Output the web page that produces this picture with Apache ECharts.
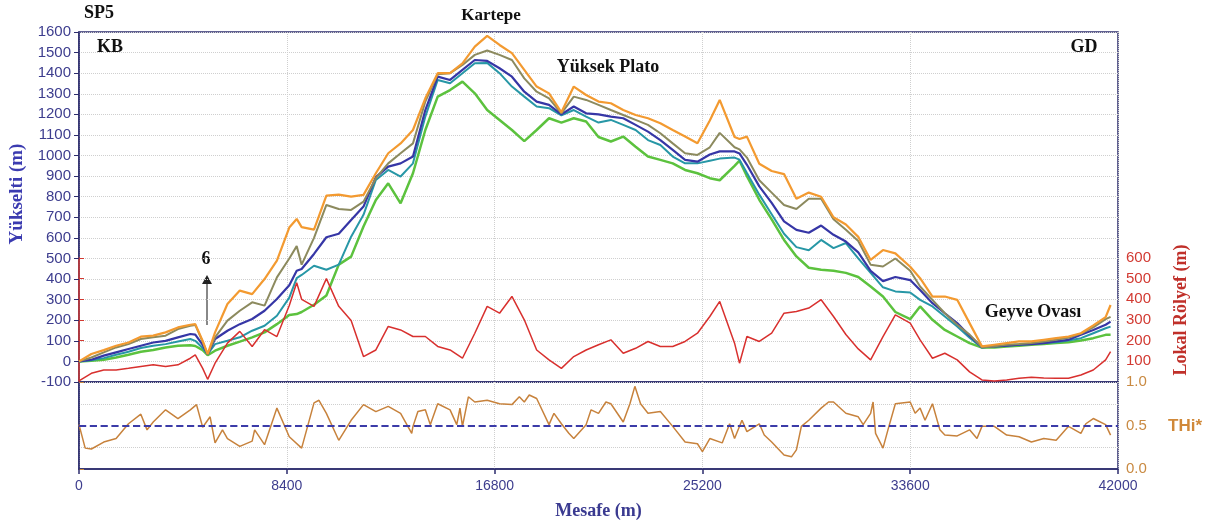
<!DOCTYPE html>
<html>
<head>
<meta charset="utf-8">
<script src="https://cdn.jsdelivr.net/npm/echarts@6/dist/echarts.min.js"></script>
<style>
html,body{margin:0;padding:0;background:#fff;}
#c{width:1212px;height:526px;}
</style>
</head>
<body>
<div id="c"></div>
<script>
// Distance (m) for elevation / relief profiles
const dist = [0,500,1000,1500,2000,2500,3000,3500,4000,4500,4700,5000,5200,5500,6000,6500,7000,7500,8000,8500,8800,9000,9500,10000,10500,11000,11500,12000,12500,13000,13500,14000,14500,15000,15500,16000,16500,17000,17500,18000,18500,19000,19500,20000,20500,21000,21500,22000,22500,23000,23500,24000,24500,25000,25500,25900,26500,26700,27000,27500,28000,28500,29000,29500,30000,30500,31000,31500,32000,32500,33000,33600,34000,34500,35000,35500,36000,36500,37000,37500,38000,38500,39000,39500,40000,40500,41000,41500,41700];
// Elevation series (m)
const orange = [0,36,55,76,92,120,125,141,165,178,181,100,35,141,279,344,327,400,490,650,692,652,640,805,810,800,809,914,1011,1059,1124,1278,1400,1400,1448,1529,1581,1537,1497,1416,1335,1302,1210,1335,1294,1262,1254,1221,1197,1181,1157,1124,1092,1060,1170,1270,1090,1080,1092,960,925,910,790,820,800,700,665,605,493,541,525,460,404,315,315,299,186,73,81,89,97,97,105,113,121,137,175,215,274];
const olive = [0,19,44,68,84,109,117,125,157,173,177,95,35,117,198,246,287,271,408,500,560,470,600,760,740,736,776,890,962,1011,1059,1262,1395,1400,1440,1489,1510,1489,1464,1375,1310,1278,1205,1286,1270,1246,1221,1197,1173,1149,1108,1059,1011,1003,1040,1110,1040,1030,990,880,820,760,740,790,790,690,639,585,470,461,500,440,364,299,234,178,130,69,73,81,84,89,97,105,115,135,165,205,216];
const blue = [0,8,28,44,60,76,92,100,117,133,130,80,35,109,149,181,206,246,303,370,440,449,522,603,620,687,752,895,946,962,995,1221,1383,1367,1416,1464,1460,1424,1383,1310,1262,1246,1200,1238,1205,1200,1189,1181,1149,1116,1075,1027,979,970,1005,1020,1020,1010,955,850,770,680,639,625,660,615,582,530,440,390,410,395,347,283,234,186,125,69,73,76,81,84,89,97,105,129,153,178,193];
const teal = [0,6,16,32,47,65,76,84,97,109,100,65,35,84,100,117,149,173,222,310,405,420,465,445,470,606,712,881,930,898,962,1189,1367,1351,1400,1448,1450,1400,1335,1286,1238,1230,1195,1221,1189,1160,1173,1149,1124,1075,1051,995,962,962,975,985,990,980,915,810,715,620,555,540,590,550,575,500,430,360,340,335,299,267,218,170,115,67,73,76,81,84,89,93,102,113,137,161,169];
const green = [0,3,8,19,32,47,55,68,76,79,75,55,30,52,76,96,117,141,181,225,230,240,275,320,470,509,655,784,865,768,914,1124,1286,1318,1359,1302,1221,1173,1124,1070,1124,1181,1160,1181,1165,1090,1068,1092,1043,995,979,962,930,914,890,880,950,975,900,785,690,590,510,455,445,440,430,410,364,315,240,205,267,202,153,121,89,67,67,73,76,81,84,89,93,102,113,129,129];
// Local relief (m)
const relief = [5,42,58,58,66,75,83,75,83,115,131,66,13,91,188,245,172,253,220,370,480,400,366,500,366,298,123,155,269,252,220,220,172,155,115,236,366,333,414,301,155,107,66,123,155,180,204,139,163,196,172,172,196,236,317,390,188,91,220,196,236,333,341,358,398,317,230,160,107,220,325,285,204,115,139,107,49,10,5,10,18,23,19,18,18,34,58,107,147];
// THi* index
const thiDist = [0,250,500,1000,1500,2000,2500,2750,3000,3500,4000,4500,4750,5000,5300,5500,5800,6000,6500,7000,7100,7500,8000,8500,9000,9500,9700,10000,10500,11000,11500,12000,12500,13000,13450,13500,13700,14000,14200,14500,15000,15270,15400,15500,15740,16000,16500,17000,17500,17800,18000,18200,18500,19000,19200,19500,19800,20000,20500,20700,21000,21300,21500,22000,22270,22470,22700,23000,23500,24000,24500,25000,25200,25500,26000,26300,26500,26800,27000,27500,27700,28000,28500,28800,29000,29200,29500,30000,30300,30500,31000,31500,31700,32000,32100,32200,32500,32700,33000,33600,33800,34000,34200,34500,34800,35000,35500,36000,36300,36500,37000,37500,38000,38500,39000,39500,40000,40500,40700,41000,41500,41700];
const thi = [0.51,0.24,0.23,0.31,0.35,0.52,0.63,0.45,0.54,0.68,0.58,0.68,0.74,0.48,0.60,0.30,0.45,0.35,0.26,0.32,0.45,0.28,0.70,0.37,0.24,0.76,0.79,0.64,0.33,0.56,0.74,0.66,0.72,0.64,0.41,0.49,0.66,0.68,0.51,0.75,0.68,0.51,0.70,0.49,0.83,0.77,0.79,0.75,0.74,0.83,0.77,0.85,0.81,0.51,0.64,0.52,0.41,0.35,0.51,0.68,0.64,0.77,0.75,0.54,0.75,0.95,0.75,0.64,0.66,0.49,0.31,0.29,0.20,0.35,0.30,0.52,0.35,0.56,0.43,0.52,0.39,0.31,0.16,0.14,0.22,0.49,0.56,0.70,0.77,0.77,0.64,0.60,0.51,0.64,0.77,0.41,0.24,0.45,0.75,0.77,0.64,0.70,0.56,0.75,0.45,0.39,0.38,0.45,0.35,0.49,0.49,0.39,0.37,0.31,0.35,0.33,0.49,0.41,0.52,0.58,0.51,0.39];
const xTicks = [0,8400,16800,25200,33600,42000];

const pair = (xs, ys) => xs.map((x,i)=>[x, ys[i]]);
const NAVY = '#2d2d6e';
const LBL = '#3d3d8e';
const RED = '#d23a32';
const TAN = '#c98a42';
const serif = 'Liberation Serif';
const sans = 'Liberation Sans';

const chart = echarts.init(document.getElementById('c'), null, {renderer:'canvas'});
const line = (name, data, color, w, xi, yi, extra) => Object.assign({
  name, type:'line', data, xAxisIndex:xi, yAxisIndex:yi, showSymbol:false, symbol:'none',
  lineStyle:{color, width:w}, itemStyle:{color}, animation:false
}, extra||{});

const option = {
  animation:false,
  backgroundColor:'#fff',
  grid:[
    {left:79, top:32, width:1039, height:350, show:true, borderColor:NAVY, borderWidth:1.5, backgroundColor:'transparent'},
    {left:79, top:258, width:1039, height:124, show:false},
    {left:79, top:382, width:1039, height:87, show:true, borderColor:NAVY, borderWidth:1.5, backgroundColor:'transparent'}
  ],
  xAxis:[
    {gridIndex:0, type:'value', min:0, max:42000, interval:8400,
     axisLine:{show:false}, axisTick:{show:false}, axisLabel:{show:false},
     splitLine:{show:true, lineStyle:{type:'dotted', color:'#cfcfcf', width:1}}},
    {gridIndex:1, type:'value', min:0, max:42000, show:false},
    {gridIndex:2, type:'value', min:0, max:42000, interval:8400,
     axisLine:{show:true, lineStyle:{color:NAVY, width:1.5}},
     axisTick:{show:true, length:5, lineStyle:{color:NAVY, width:1.5}},
     axisLabel:{color:LBL, fontSize:14, fontFamily:sans, margin:10, formatter:v=>String(v)},
     splitLine:{show:true, lineStyle:{type:'dotted', color:'#cfcfcf', width:1}},
     name:'Mesafe (m)', nameLocation:'middle', nameGap:33,
     nameTextStyle:{fontFamily:serif, fontWeight:'bold', fontSize:18, color:'#3a3a90'}}
  ],
  yAxis:[
    {gridIndex:0, type:'value', min:-100, max:1600, interval:100, position:'left',
     axisLine:{show:true, lineStyle:{color:NAVY, width:1.5}},
     axisTick:{show:true, length:5, lineStyle:{color:NAVY}},
     axisLabel:{color:LBL, fontSize:15, fontFamily:sans, margin:8, formatter:v=>String(v)},
     splitLine:{show:true, lineStyle:{type:'dotted', color:'#cfcfcf', width:1}}},
    {gridIndex:1, type:'value', min:0, max:600, interval:100, position:'right',
     axisLine:{show:true, lineStyle:{color:RED, width:1.5}},
     axisTick:{show:true, length:5, lineStyle:{color:RED}},
     axisLabel:{color:RED, fontSize:15, fontFamily:sans, margin:8, showMinLabel:false, formatter:v=>String(v)},
     splitLine:{show:false}},
    {gridIndex:2, type:'value', min:0, max:1, interval:0.5, position:'right',
     axisLine:{show:true, lineStyle:{color:NAVY, width:1.5}},
     axisTick:{show:true, length:5, lineStyle:{color:TAN}},
     axisLabel:{color:TAN, fontSize:15, fontFamily:sans, margin:8, formatter:v=>v.toFixed(1)},
     splitLine:{show:false},
     minorTick:{show:false, splitNumber:2},
     minorSplitLine:{show:true, lineStyle:{type:'dotted', color:'#cfcfcf', width:1}}}
  ],
  series:[
    line('Yeşil', pair(dist, green), '#5cc23e', 2.5, 0, 0),
    line('Turkuaz', pair(dist, teal), '#2797a6', 2, 0, 0),
    line('Mavi', pair(dist, blue), '#3636a6', 2.2, 0, 0),
    line('Zeytin', pair(dist, olive), '#8c8a5e', 2, 0, 0),
    line('Turuncu', pair(dist, orange), '#f39a30', 2.2, 0, 0),
    line('Lokal Rölyef', pair(dist, relief), '#d8302e', 1.5, 1, 1),
    line('THi*', pair(thiDist, thi), '#c7823c', 1.5, 2, 2, {
      markLine:{silent:true, symbol:'none', label:{show:false},
        lineStyle:{color:'#3b3ba8', type:'dashed', width:1.8}, data:[{yAxis:0.5}]}
    })
  ],
  graphic:[
    {type:'text', x:99, y:13, style:{text:'SP5', font:'bold 18px "Liberation Serif"', fill:'#111', align:'center', verticalAlign:'middle'}},
    {type:'text', x:491, y:16, style:{text:'Kartepe', font:'bold 17px "Liberation Serif"', fill:'#111', align:'center', verticalAlign:'middle'}},
    {type:'text', x:110, y:47, style:{text:'KB', font:'bold 18px "Liberation Serif"', fill:'#111', align:'center', verticalAlign:'middle'}},
    {type:'text', x:608, y:67, style:{text:'Yüksek Plato', font:'bold 18px "Liberation Serif"', fill:'#111', align:'center', verticalAlign:'middle'}},
    {type:'text', x:1084, y:47, style:{text:'GD', font:'bold 18px "Liberation Serif"', fill:'#111', align:'center', verticalAlign:'middle'}},
    {type:'text', x:206, y:259, style:{text:'6', font:'bold 18px "Liberation Serif"', fill:'#111', align:'center', verticalAlign:'middle'}},
    {type:'text', x:1033, y:312, style:{text:'Geyve Ovası', font:'bold 18px "Liberation Serif"', fill:'#111', align:'center', verticalAlign:'middle'}},
    {type:'line', shape:{x1:207, y1:325, x2:207, y2:283}, style:{stroke:'#888', lineWidth:2}},
    {type:'polygon', shape:{points:[[202,284],[212,284],[207,275]]}, style:{fill:'#222'}},
    {type:'text', x:17, y:194, rotation:Math.PI/2, style:{text:'Yükselti (m)', font:'bold 19px "Liberation Serif"', fill:'#3b3bb0', align:'center', verticalAlign:'middle'}},
    {type:'text', x:1181, y:310, rotation:Math.PI/2, style:{text:'Lokal Rölyef (m)', font:'bold 18px "Liberation Serif"', fill:'#c0302a', align:'center', verticalAlign:'middle'}},
    {type:'text', x:1185, y:426, style:{text:'THi*', font:'bold 17px "Liberation Sans"', fill:'#d08838', align:'center', verticalAlign:'middle'}}
  ]
};
chart.setOption(option);
</script>
</body>
</html>
